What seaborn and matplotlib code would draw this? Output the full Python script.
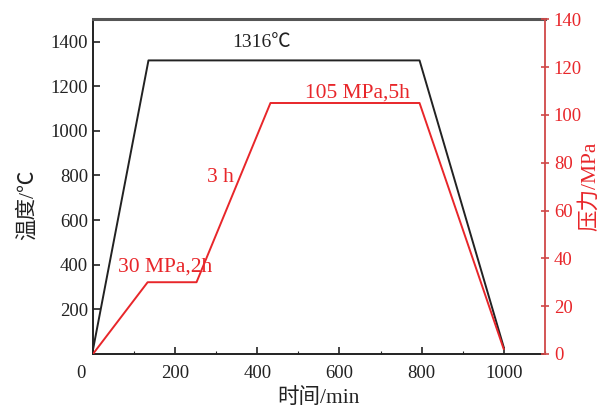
import matplotlib
matplotlib.use("Agg")
import matplotlib.pyplot as plt
import matplotlib.transforms as mtransforms
import seaborn as sns
import pandas as pd
from matplotlib.ticker import MultipleLocator

# datos
tiempo_temp = [0, 135, 795, 1000]
temperatura = [20, 1316, 1316, 30]
tiempo_pres = [0, 133, 252, 432, 795, 1000]
presion = [0, 30, 30, 105, 105, 2]

x_ticks = [0, 200, 400, 600, 800, 1000]
t_ticks = [200, 400, 600, 800, 1000, 1200, 1400]
p_ticks = [0, 20, 40, 60, 80, 100, 120, 140]

sns.set_style("ticks")
plt.rcParams['font.family'] = ['Liberation Serif', 'Noto Sans CJK SC']
plt.rcParams['font.size'] = 13

ROJO = '#e8262a'

df_t = pd.DataFrame({'t': tiempo_temp, 'T': temperatura})
df_p = pd.DataFrame({'t': tiempo_pres, 'P': presion})

fig = plt.figure(figsize=(6.04, 4.12), dpi=100)
ax = fig.add_axes([0.154, 0.141, 0.748, 0.812])
ax2 = ax.twinx()

sns.lineplot(data=df_t, x='t', y='T', ax=ax, color='#222222', linewidth=1.4)
sns.lineplot(data=df_p, x='t', y='P', ax=ax2, color=ROJO, linewidth=1.4)

ax.set_xlim(0, 1100)
ax.set_ylim(0, 1500)
ax2.set_ylim(0, 140)

ax.set_xticks(x_ticks)
ax.xaxis.set_minor_locator(MultipleLocator(100))
ax.set_yticks(t_ticks)
ax2.set_yticks(p_ticks)

ax.tick_params(axis='x', which='major', direction='in', length=5, width=1.2, colors='#222222', labelsize=13.5, pad=8)
ax.tick_params(axis='x', which='minor', direction='in', length=2.5, width=0.8, colors='#222222')
ax.tick_params(axis='y', direction='in', length=5, width=1.2, colors='#222222', labelsize=13.5)
ax2.tick_params(axis='y', direction='inout', length=6, width=1.2, colors='#d04848', labelcolor=ROJO, labelsize=13.5)

# el "0" del eje x aparece corrido a la izquierda
desplaza = mtransforms.ScaledTranslation(-12 / 100, 0, fig.dpi_scale_trans)
lbl0 = ax.get_xticklabels()[0]
lbl0.set_transform(lbl0.get_transform() + desplaza)

ax.set_xlabel('时间/min', fontsize=15.5, color='#222222', labelpad=4)
ax.set_ylabel('温度/℃', fontsize=15.5, color='#222222')
ax.yaxis.set_label_coords(-0.122, 0.445)
ax2.set_ylabel('压力/MPa', fontsize=15.5, color=ROJO, labelpad=-2)

for s in ['left', 'bottom']:
    ax.spines[s].set_color('#222222')
    ax.spines[s].set_linewidth(1.4)
ax.spines['top'].set_color('#555555')
ax.spines['top'].set_linewidth(2.2)
ax2.spines['top'].set_visible(False)
ax2.spines['right'].set_color('#d04848')
ax2.spines['right'].set_linewidth(1.3)
ax2.spines['left'].set_visible(False)
ax2.spines['bottom'].set_visible(False)
ax.spines['right'].set_visible(False)

ax.text(410, 1398, '1316℃', ha='center', va='center', color='#222222', fontsize=14)
ax2.text(645, 109, '105 MPa,5h', ha='center', va='center', color=ROJO, fontsize=15.5)
ax2.text(311, 74, '3 h', ha='center', va='center', color=ROJO, fontsize=15.5)
ax2.text(175, 36.5, '30 MPa,2h', ha='center', va='center', color=ROJO, fontsize=15.5)

fig.savefig('out.png', dpi=100)
